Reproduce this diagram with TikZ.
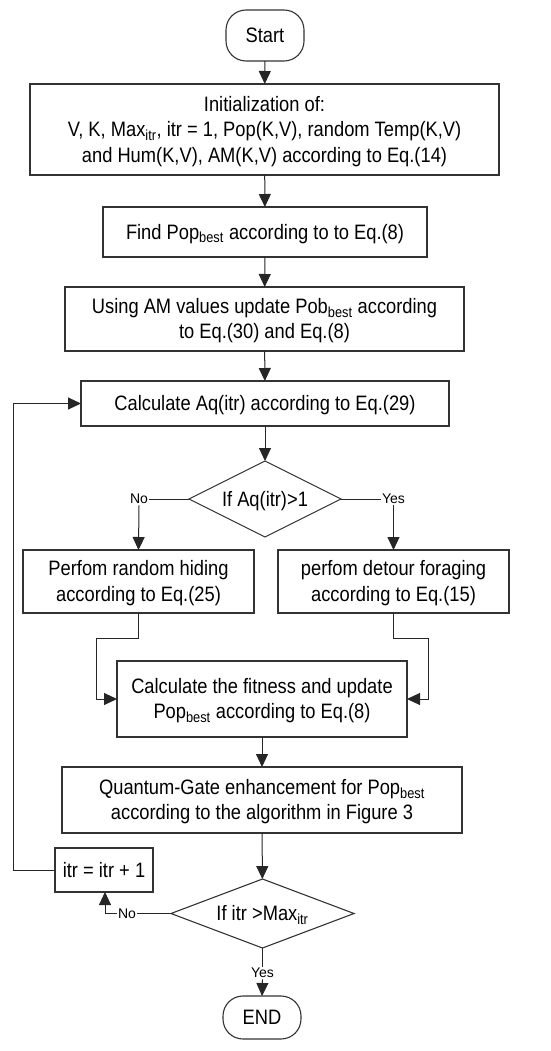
\documentclass[tikz,border=0pt]{standalone}
\usepackage{graphicx}
\usepackage{fontspec}
\setmainfont{Liberation Sans}
\usetikzlibrary{shapes.geometric,arrows.meta}
\newcommand\tx[1]{\raisebox{-2pt}[\height][\depth]{\scalebox{1}[1.14]{\begin{tabular}{@{}c@{}}#1\end{tabular}}}}
\begin{document}
\begin{tikzpicture}[x=1pt,y=-1pt,
  every node/.style={inner sep=0pt,outer sep=0pt},
  box/.style={draw=black!80,line width=1.1pt,rectangle,align=center,
    font=\fontsize{18.3}{22.4}\selectfont},
  term/.style={draw=black!80,line width=1.1pt,rectangle,rounded corners=20pt,
    font=\fontsize{18.3}{22}\selectfont},
  dec/.style={draw=black!80,line width=1.1pt,diamond,
    font=\fontsize{18.3}{22}\selectfont},
  lab/.style={font=\fontsize{14}{16}\selectfont,inner sep=1.5pt},
  line/.style={draw=black!85,line width=1pt},
  arr/.style={line,-{Triangle[length=13pt,width=12pt]}}
]
\useasboundingbox (0,0) rectangle (550,1051);
\node[term,minimum width=78pt,minimum height=51pt] (start) at (265,35.5) {\tx{Start}};
\node[box,minimum width=469pt,minimum height=91pt] (init) at (264.5,129.5)
  {\tx{Initialization of:\\ V, K, Max\textsubscript{itr}, itr = 1, Pop(K,V), random Temp(K,V)\\ and Hum(K,V), AM(K,V) according to Eq.(14)}};
\node[box,minimum width=324pt,minimum height=50pt] (find) at (265,232)
  {\tx{Find Pop\textsubscript{best} according to to Eq.(8)}};
\node[box,minimum width=399pt,minimum height=64pt] (using) at (264.5,319)
  {\tx{Using AM values update Pob\textsubscript{best} according\\ to Eq.(30) and Eq.(8)}};
\node[box,minimum width=368pt,minimum height=45pt] (calc) at (265,403.5)
  {\tx{Calculate Aq(itr) according to Eq.(29)}};
\node[dec,minimum width=152pt,minimum height=76pt,aspect=2] (d1) at (265,499)
  {\tx{If Aq(itr)>1}};
\node[lab] (no1) at (139,499) {No};
\node[lab] (yes1) at (393.5,499) {Yes};
\node[box,minimum width=231pt,minimum height=63pt] (hide) at (138.5,581.5)
  {\tx{Perfom random hiding\\ according to Eq.(25)}};
\node[box,minimum width=231pt,minimum height=63pt] (detour) at (393.5,581.5)
  {\tx{perfom detour foraging\\ according to Eq.(15)}};
\node[box,minimum width=290pt,minimum height=76pt] (fit) at (262,699)
  {\tx{Calculate the fitness and update\\ Pop\textsubscript{best} according to Eq.(8)}};
\node[box,minimum width=400pt,minimum height=66pt] (quant) at (262,800)
  {\tx{Quantum-Gate enhancement for Pop\textsubscript{best}\\ according to the algorithm in Figure 3}};
\node[dec,minimum width=183pt,minimum height=69pt,aspect=2.65] (d2) at (262.5,913.5)
  {\tx{If itr >Max\textsubscript{itr}}};
\node[box,minimum width=98pt,minimum height=44pt] (itr) at (104,870) {\tx{itr = itr + 1}};
\node[lab] (no2) at (127,913.5) {No};
\node[lab] (yes2) at (262.5,973) {Yes};
\node[term,minimum width=78pt,minimum height=43pt] (end) at (262,1017.5) {\tx{END}};
\coordinate (hl) at (138.5,638);
\coordinate (hl2) at (96,638);
\coordinate (hl3) at (96,699);
\coordinate (dr) at (393.5,638);
\coordinate (dr2) at (428,638);
\coordinate (dr3) at (428,699);
\coordinate (nb) at (105,913.5);
\coordinate (lp1) at (13,870);
\coordinate (lp2) at (13,403.5);
% connectors
\draw[arr] (start) -- (init);
\draw[arr] (init) -- (find);
\draw[arr] (find) -- (using);
\draw[arr] (using) -- (calc);
\draw[arr] (calc) -- (d1);
\draw[line] (d1.west) -- (no1.east);
\draw[arr] (no1.south) -- (hide.north);
\draw[line] (d1.east) -- (yes1.west);
\draw[arr] (yes1.south) -- (detour.north);
\draw[arr] (hide.south) -- (hl) -- (hl2) -- (hl3) -- (fit.west);
\draw[arr] (detour.south) -- (dr) -- (dr2) -- (dr3) -- (fit.east);
\draw[arr] (fit) -- (quant);
\draw[arr] (quant) -- (d2);
\draw[line] (d2.west) -- (no2.east);
\draw[arr] (no2.west) -- (nb) -- (itr.south -| nb);
\draw[arr] (itr.west) -- (lp1) -- (lp2) -- (calc.west);
\draw[line] (d2.south) -- (yes2.north);
\draw[arr] (yes2.south) -- (end.north);
\end{tikzpicture}
\end{document}
